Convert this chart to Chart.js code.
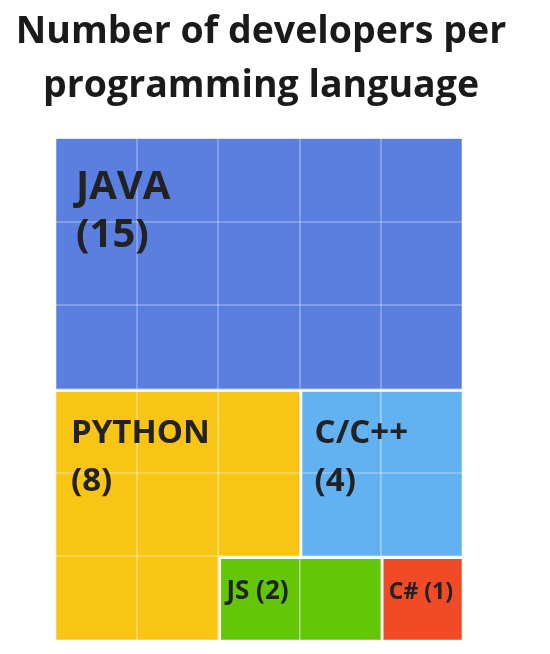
<!DOCTYPE html>
<html>
<head>
<meta charset="utf-8">
<script src="https://cdn.jsdelivr.net/npm/chart.js@4.4.1/dist/chart.umd.min.js"></script>
<style>
  html, body { margin: 0; padding: 0; background: #fff; }
  #wrap { width: 550px; height: 654px; }
</style>
</head>
<body>
<div id="wrap"><canvas id="devChart"></canvas></div>
<script>
const languages = ['JAVA', 'PYTHON', 'C/C++', 'JS', 'C#'];
const developers = [15, 8, 4, 2, 1];
const gridColumns = 5;
const titleLines = ['Number of developers per', 'programming language'];

const tileColors = ['#5b7fe1', '#f9c514', '#62b1f1', '#63c606', '#f04a26'];

// one unit cell per developer, each language packed as a compact block
const total = developers.reduce((a, b) => a + b, 0);
const gridRows = Math.ceil(total / gridColumns);
const owner = Array.from({ length: gridRows }, () => Array(gridColumns).fill(-1));
const anchors = [];

developers.forEach((n, li) => {
    let r0 = 0, c0 = 0;
    find: for (let r = 0; r < gridRows; r++) {
        for (let c = 0; c < gridColumns; c++) {
            if (owner[r][c] < 0) { r0 = r; c0 = c; break find; }
        }
    }
    let w = n % gridColumns === 0 ? gridColumns : Math.ceil(Math.sqrt(n));
    w = Math.min(w, gridColumns - c0);
    anchors.push({ row: r0, col: c0 });
    let left = n;
    for (let r = r0; left > 0 && r < gridRows; r++) {
        for (let c = c0; c < c0 + w && left > 0; c++) {
            if (owner[r][c] < 0) { owner[r][c] = li; left--; }
        }
    }
});

// stacked per column, top to bottom in dataset order
const columnCounts = languages.map((_, li) =>
    Array.from({ length: gridColumns }, (_, c) => {
        const k = owner.filter(row => row[c] === li).length;
        return k || null;
    })
);

// thick white edge where a block meets another language
function blockEdges(ctx) {
    const li = ctx.datasetIndex, c = ctx.dataIndex;
    const rows = [];
    for (let r = 0; r < gridRows; r++) if (owner[r][c] === li) rows.push(r);
    if (!rows.length) return 0;
    const top = rows[0] > 0 ? 3 : 0;
    const left = c > 0 && rows.every(r => owner[r][c - 1] !== li) ? 3 : 0;
    return { top, left, right: 0, bottom: 0 };
}

// built-in title squeezes text to the padded box, so draw it here
const wideTitle = {
    id: 'wideTitle',
    afterDraw(chart) {
        const { ctx, chartArea } = chart;
        ctx.save();
        ctx.fillStyle = '#1a1a1a';
        ctx.textAlign = 'center';
        ctx.textBaseline = 'alphabetic';
        ctx.font = 'bold 37.5px "Open Sans"';
        const cx = (chartArea.left + chartArea.right) / 2 + 2;
        titleLines.forEach((line, i) => ctx.fillText(line, cx, 43 + i * 54));
        ctx.restore();
    }
};

const tileLabels = {
    id: 'tileLabels',
    afterDraw(chart) {
        const { ctx, scales: { x, y } } = chart;
        const cellW = x.getPixelForValue(1) - x.getPixelForValue(0);
        const cellH = y.getPixelForValue(1) - y.getPixelForValue(0);
        ctx.save();
        ctx.fillStyle = '#222222';
        ctx.textAlign = 'left';
        ctx.textBaseline = 'alphabetic';
        languages.forEach((name, i) => {
            const n = developers[i];
            const a = anchors[i];
            const left = x.getPixelForValue(a.col) - cellW / 2;
            const top = y.getPixelForValue(a.row);
            const size = n >= 10 ? 40 : n >= 4 ? 33 : n >= 2 ? 26 : 23;
            ctx.font = `bold ${size}px "Open Sans"`;
            if (n >= 4) {
                const pad = n >= 10 ? 20 : 15;
                const base = top + size + 21;
                ctx.fillText(name, left + pad, base);
                ctx.fillText(`(${n})`, left + pad, base + 47.5);
            } else {
                ctx.fillText(`${name} (${n})`, left + 8, top + cellH / 2 + 1);
            }
        });
        ctx.restore();
    }
};

new Chart(document.getElementById('devChart'), {
    type: 'bar',
    data: {
        labels: Array.from({ length: gridColumns }, (_, c) => String(c)),
        datasets: languages.map((name, li) => ({
            label: name,
            data: columnCounts[li],
            backgroundColor: tileColors[li],
            borderColor: '#ffffff',
            borderWidth: blockEdges,
            borderSkipped: false,
            barPercentage: 1,
            categoryPercentage: 1
        }))
    },
    plugins: [tileLabels, wideTitle],
    options: {
        responsive: true,
        maintainAspectRatio: false,
        animation: false,
        layout: { padding: { top: 138, left: 56, right: 80, bottom: 14 } },
        plugins: {
            legend: { display: false },
            tooltip: { enabled: false },
            title: { display: false }
        },
        scales: {
            x: {
                stacked: true,
                ticks: { display: false },
                border: { display: false },
                grid: { color: 'rgba(255,255,255,0.25)', lineWidth: 2, drawTicks: false, z: 1 }
            },
            y: {
                stacked: true,
                reverse: true,
                min: 0,
                max: gridRows,
                position: 'right',
                ticks: { display: false, stepSize: 1 },
                border: { display: false },
                grid: { color: 'rgba(255,255,255,0.25)', lineWidth: 2, tickLength: 8, z: 1 }
            }
        }
    }
});
</script>
</body>
</html>
